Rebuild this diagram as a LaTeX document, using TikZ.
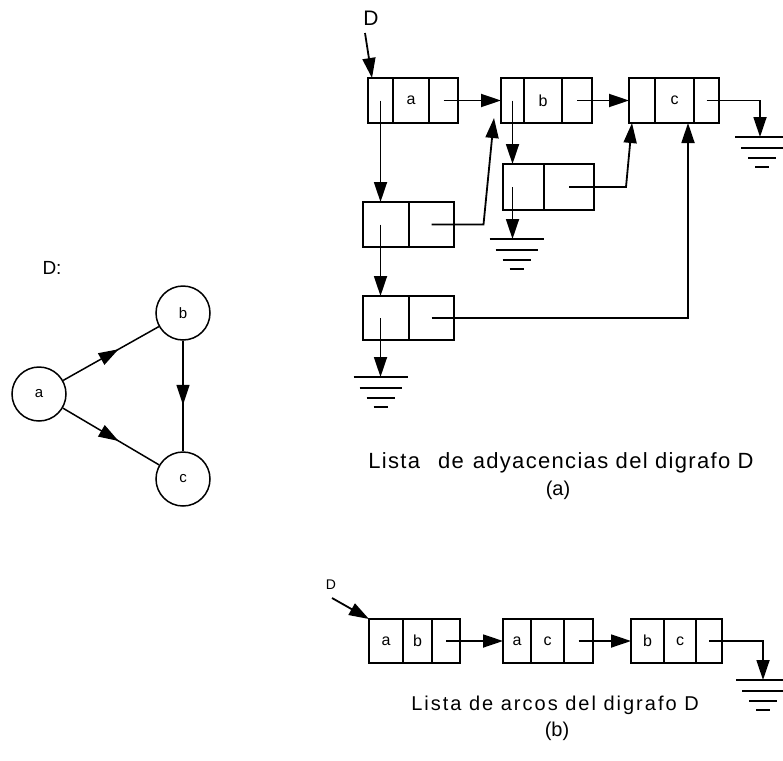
\documentclass[tikz,border=0pt]{standalone}
\usepackage{fontspec}
\setmainfont{Liberation Sans}
\usetikzlibrary{arrows.meta,decorations.markings}

\tikzset{
  celda/.style={draw, minimum height=44pt, inner sep=0pt, outer sep=0pt, font=\fontsize{16}{16}\selectfont},
  vertice/.style={draw, circle, line width=1.5pt, minimum size=54pt, inner sep=0pt, font=\fontsize{15}{15}\selectfont},
  flecha/.style={-{Triangle[length=20pt,width=13pt]}},
  media/.style={line width=1.5pt, postaction={decorate}, decoration={markings, mark=at position 0.58 with {\arrow{Triangle[length=20pt,width=13pt]}}}},
  tierra/.pic={\draw (-27,0) -- (27,0) (-21,11) -- (21,11) (-14,21) -- (14,21) (-7,30) -- (7,30);}
}

\begin{document}
\begin{tikzpicture}[x=1pt,y=-1pt,line width=1.8pt]
\useasboundingbox (0,0) rectangle (783,760);
% digrafo D
\node[font=\fontsize{19}{19}\selectfont] (nombre) at (52,268) {D:};
\node[vertice] (va) at (39,394) {a};
\node[vertice] (vb) at (183,313) {b};
\node[vertice] (vc) at (183,479) {c};
\draw[media] (va) -- (vb);
\draw[media] (vb) -- (vc);
\draw[media] (va) -- (vc);
% lista de adyacencias
\node[font=\fontsize{21}{21}\selectfont] (D) at (371,18) {D};
\coordinate (pD) at (365,33);
\node[celda, minimum width=25pt, minimum height=45pt] (a1) at (380.5,100.5) {};
\node[celda, minimum width=36pt, minimum height=45pt] (a2) at (411,100.5) {a};
\node[celda, minimum width=29pt, minimum height=45pt] (a3) at (443.5,100.5) {};
\node[celda, minimum width=23pt, minimum height=45pt] (b1) at (512.5,100.5) {};
\node[celda, minimum width=38pt, minimum height=45pt] (b2) at (543,100.5) {b};
\node[celda, minimum width=30pt, minimum height=45pt] (b3) at (577,100.5) {};
\node[celda, minimum width=26pt, minimum height=45pt] (c1) at (642,100.5) {};
\node[celda, minimum width=39pt, minimum height=45pt] (c2) at (674.5,100.5) {c};
\node[celda, minimum width=25pt, minimum height=45pt] (c3) at (706.5,100.5) {};
\node[celda, minimum width=46pt, minimum height=45pt] (d1) at (386,224.5) {};
\node[celda, minimum width=45pt, minimum height=45pt] (d1r) at (431.5,224.5) {};
\node[celda, minimum width=46pt] (d2) at (386,318) {};
\node[celda, minimum width=45pt] (d2r) at (431.5,318) {};
\node[celda, minimum width=41pt, minimum height=46pt] (e1) at (523.5,187) {};
\node[celda, minimum width=50pt, minimum height=46pt] (e2) at (569,187) {};
\coordinate (bIn) at (494,118);
\coordinate (cIn1) at (632,123);
\coordinate (cIn2) at (688,123);
\coordinate (g1) at (380.5,377);
\coordinate (ge) at (512.5,239);
\coordinate (gc) at (760,137);
\draw[flecha] (pD) -- ([xshift=4pt]a1.north west);
\draw[flecha] (a3.center) -- (b1.west);
\draw[flecha] (b3.center) -- (c1.west);
\draw[flecha] (c3.center) -| (gc);
\draw[flecha] (a1.center) -- (a1.center |- d1.north);
\draw[flecha] (a1.center |- d1.center) -- (a1.center |- d2.north);
\draw[flecha] (a1.center |- d2.center) -- (g1);
\draw[flecha] (d1r.center) -- ++(52,0) -- (bIn);
\draw[flecha] (b1.center) -- (b1.center |- e1.north);
\draw[flecha] (b1.center |- e1.center) -- (ge);
\draw[flecha] (e2.center) -- ++(57,0) -- (cIn1);
\draw[flecha] (d2r.center) -| (cIn2);
\pic at (g1) {tierra};
\pic at ([xshift=4pt]ge) {tierra};
\pic at ([xshift=2pt]gc) {tierra};
\node[font=\fontsize{22}{22}\selectfont\addfontfeature{LetterSpace=6}] (capa) at (561,463) {Lista\hspace{18pt}de\hspace{9pt}adyacencias del digrafo D};
\node[font=\fontsize{20}{20}\selectfont] (capa2) at (558,490) {(a)};
% lista de arcos
\node[font=\fontsize{14}{14}\selectfont] (Db) at (331,585) {D};
\coordinate (pDb) at (332,598);
\node[celda, minimum width=34pt] (l1) at (386,641) {a};
\node[celda, minimum width=29pt] (l2) at (417.5,641) {b};
\node[celda, minimum width=28pt] (l3) at (446,641) {};
\node[celda, minimum width=28pt] (m1) at (517,641) {a};
\node[celda, minimum width=33pt] (m2) at (547.5,641) {c};
\node[celda, minimum width=29pt] (m3) at (578.5,641) {};
\node[celda, minimum width=33pt] (n1) at (647.5,641) {b};
\node[celda, minimum width=32pt] (n2) at (680,641) {c};
\node[celda, minimum width=26pt] (n3) at (709,641) {};
\coordinate (gb) at (763,680);
\draw[flecha] (pDb) -- (l1.north west);
\draw[flecha] (l3.center) -- (m1.west);
\draw[flecha] (m3.center) -- (n1.west);
\draw[flecha] (n3.center) -| (gb);
\pic at (gb) {tierra};
\node[font=\fontsize{20}{20}\selectfont\addfontfeature{LetterSpace=10}] (capb) at (555,705) {Lista de arcos del digrafo D};
\node[font=\fontsize{20}{20}\selectfont] (capb2) at (557,731) {(b)};
\end{tikzpicture}
\end{document}
